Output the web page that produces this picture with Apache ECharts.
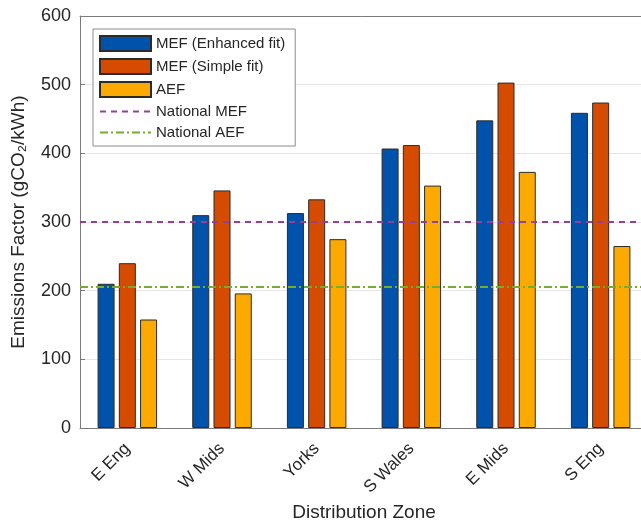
<!DOCTYPE html>
<html>
<head>
<meta charset="utf-8">
<title>Emissions Factor by Distribution Zone</title>
<script src="https://cdn.jsdelivr.net/npm/echarts@6/dist/echarts.min.js"></script>
<style>
    html, body { margin: 0; padding: 0; background: #fff; }
    #chart { width: 641px; height: 521px; }
</style>
</head>
<body>
<div id="chart"></div>
<script>
// chart data
const zones = ['E Eng', 'W Mids', 'Yorks', 'S Wales', 'E Mids', 'S Eng'];
const mefEnhanced = [210, 310, 313, 407, 448, 459];
const mefSimple = [240, 346, 333, 412, 503, 474];
const aef = [158, 196, 275, 353, 373, 265];
const nationalMef = [300];
const nationalAef = [205];
const yTicks = [0, 100, 200, 300, 400, 500, 600];

document.addEventListener('DOMContentLoaded', function () {
    const chartDom = document.getElementById('chart');
    const myChart = echarts.init(chartDom);
    const font = "'Liberation Sans', Arial, sans-serif";
    const textColor = '#262626';
    const axisColor = '#7a7a7a';

    const barSeries = (name, data, color) => ({
        name: name,
        type: 'bar',
        data: data,
        barWidth: 17,
        barGap: '25%',
        itemStyle: {
            color: color,
            borderColor: '#2b2b2b',
            borderWidth: 1
        },
        z: 2
    });

    // 水平参考线，用 markLine 画满整个绘图区
    const refSeries = (name, value, color, dash) => ({
        name: name,
        type: 'line',
        data: [],
        symbol: 'none',
        lineStyle: { color: color, width: 2, type: dash },
        // 图例里不要圆点
        itemStyle: { color: 'rgba(0,0,0,0)' },
        z: 5,
        markLine: {
            silent: true,
            symbol: 'none',
            label: { show: false },
            lineStyle: { color: color, width: 2, type: dash },
            data: [{ yAxis: value }]
        }
    });

    const option = {
        animation: false,
        textStyle: { fontFamily: font },
        grid: {
            left: 80,
            right: -7,
            top: 16,
            bottom: 93,
            outerBoundsMode: 'none'
        },
        legend: {
            orient: 'vertical',
            left: 93,
            top: 29,
            padding: [6, 10, 6, 6],
            itemWidth: 51,
            itemHeight: 15,
            itemGap: 6,
            backgroundColor: '#fff',
            borderColor: '#8c8c8c',
            borderWidth: 1,
            borderRadius: 0,
            textStyle: { fontFamily: font, fontSize: 15, color: textColor },
            data: [
                { name: 'MEF (Enhanced fit)', icon: 'rect' },
                { name: 'MEF (Simple fit)', icon: 'rect' },
                { name: 'AEF', icon: 'rect' },
                'National MEF',
                'National AEF'
            ]
        },
        xAxis: [
            {
                type: 'category',
                data: zones,
                name: 'Distribution Zone',
                nameLocation: 'middle',
                nameGap: 72,
                nameTextStyle: { fontSize: 19, color: textColor },
                axisLine: { lineStyle: { color: axisColor } },
                axisTick: { inside: true, length: 5, alignWithLabel: true, lineStyle: { color: '#333' } },
                axisLabel: { rotate: 45, fontSize: 17, color: textColor, margin: 18 }
            },
            {
                type: 'category',
                data: zones,
                position: 'top',
                axisLine: { lineStyle: { color: axisColor } },
                axisTick: { inside: true, length: 5, alignWithLabel: true, lineStyle: { color: axisColor } },
                axisLabel: { show: false }
            }
        ],
        yAxis: {
            type: 'value',
            min: yTicks[0],
            max: yTicks[yTicks.length - 1],
            interval: 100,
            name: 'Emissions Factor (gCO₂/kWh)',
            nameLocation: 'middle',
            nameGap: 52,
            nameRotate: 90,
            nameTextStyle: { fontSize: 19, color: textColor },
            axisLine: { show: true, lineStyle: { color: axisColor } },
            axisTick: { show: true, inside: true, length: 5, lineStyle: { color: axisColor } },
            axisLabel: { fontSize: 18, color: textColor, margin: 9 },
            splitLine: { lineStyle: { color: '#e6e6e6' } }
        },
        series: [
            barSeries('MEF (Enhanced fit)', mefEnhanced, '#0052AB'),
            barSeries('MEF (Simple fit)', mefSimple, '#D54C00'),
            barSeries('AEF', aef, '#FDAA00'),
            refSeries('National MEF', nationalMef[0], '#963F98', [6, 5]),
            refSeries('National AEF', nationalAef[0], '#77AC30', [8, 3, 2, 3])
        ]
    };

    myChart.setOption(option);
});
</script>
</body>
</html>
